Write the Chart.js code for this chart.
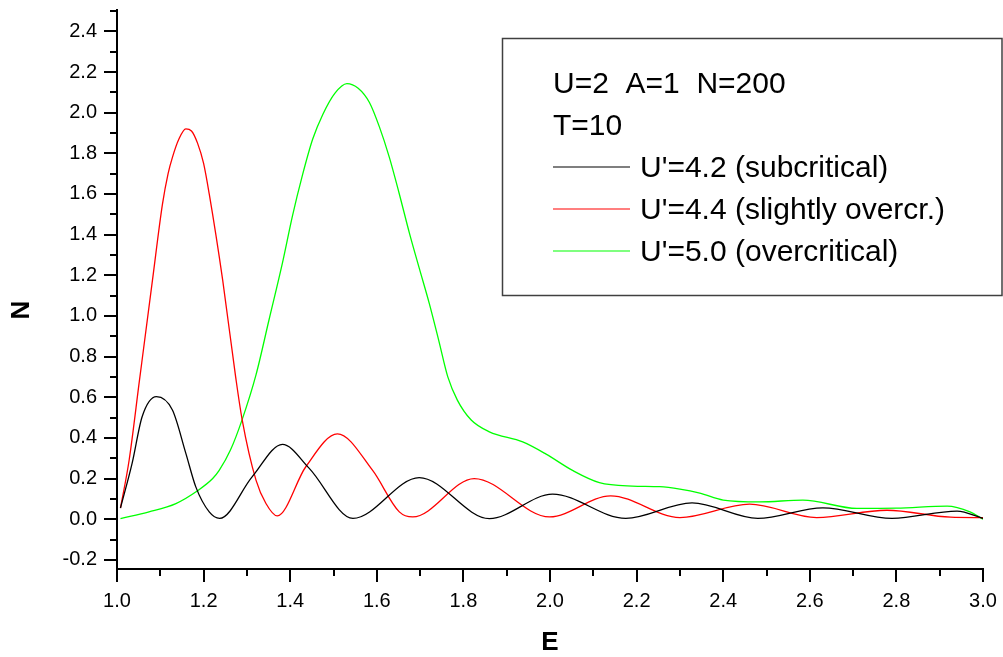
<!DOCTYPE html>
<html>
<head>
<meta charset="utf-8">
<script src="https://cdn.jsdelivr.net/npm/chart.js@4.4.1/dist/chart.umd.min.js"></script>
<style>
  html, body { margin: 0; padding: 0; background: #fff; }
  canvas { display: block; }
</style>
</head>
<body>
<canvas id="spectrum" width="1003" height="657"></canvas>
<script>
// N(E) for three values of U'
const blackE = [1.008, 1.035, 1.058, 1.091, 1.128, 1.159, 1.182, 1.213, 1.237, 1.312, 1.382, 1.444, 1.545, 1.698, 1.860, 2.006, 2.175, 2.328, 2.480, 2.630, 2.790, 2.940, 3.000];
const blackN = [0.055, 0.276, 0.504, 0.603, 0.537, 0.324, 0.159, 0.036, 0.004, 0.208, 0.368, 0.250, 0.004, 0.205, 0.003, 0.123, 0.004, 0.080, 0.004, 0.056, 0.004, 0.040, 0.004];

const redE = [1.008, 1.028, 1.052, 1.082, 1.105, 1.118, 1.128, 1.143, 1.159, 1.172, 1.186, 1.200, 1.213, 1.244, 1.274, 1.289, 1.321, 1.344, 1.370, 1.436, 1.509, 1.590, 1.652, 1.683, 1.825, 1.999, 2.140, 2.300, 2.461, 2.616, 2.778, 2.925, 3.000];
const redN = [0.055, 0.290, 0.685, 1.177, 1.550, 1.700, 1.780, 1.870, 1.920, 1.910, 1.850, 1.750, 1.600, 1.177, 0.700, 0.490, 0.192, 0.077, 0.016, 0.258, 0.420, 0.241, 0.036, 0.011, 0.200, 0.011, 0.115, 0.008, 0.074, 0.008, 0.044, 0.010, 0.008];

const greenE = [1.008, 1.074, 1.136, 1.186, 1.221, 1.236, 1.262, 1.289, 1.321, 1.351, 1.382, 1.405, 1.428, 1.452, 1.475, 1.503, 1.531, 1.557, 1.583, 1.606, 1.629, 1.652, 1.675, 1.698, 1.721, 1.743, 1.764, 1.786, 1.818, 1.860, 1.937, 1.991, 2.052, 2.114, 2.190, 2.253, 2.300, 2.346, 2.400, 2.484, 2.584, 2.709, 2.800, 2.917, 2.970, 3.000];
const greenN = [0.003, 0.036, 0.077, 0.140, 0.200, 0.240, 0.340, 0.490, 0.710, 0.980, 1.260, 1.490, 1.690, 1.870, 1.990, 2.095, 2.143, 2.120, 2.050, 1.930, 1.780, 1.600, 1.410, 1.235, 1.063, 0.880, 0.700, 0.586, 0.488, 0.430, 0.380, 0.320, 0.240, 0.180, 0.163, 0.160, 0.148, 0.128, 0.094, 0.085, 0.094, 0.053, 0.054, 0.064, 0.036, 0.000];

const seriesLabels = ["U'=4.2 (subcritical)", "U'=4.4 (slightly overcr.)", "U'=5.0 (overcritical)"];
const headerLines = ['U=2  A=1  N=200', 'T=10'];

const xMajorTicks = [1.0, 1.2, 1.4, 1.6, 1.8, 2.0, 2.2, 2.4, 2.6, 2.8, 3.0];
const xMinorTicks = [1.1, 1.3, 1.5, 1.7, 1.9, 2.1, 2.3, 2.5, 2.7, 2.9];
const yMajorTicks = [-0.2, 0.0, 0.2, 0.4, 0.6, 0.8, 1.0, 1.2, 1.4, 1.6, 1.8, 2.0, 2.2, 2.4];
const yMinorTicks = [-0.1, 0.1, 0.3, 0.5, 0.7, 0.9, 1.1, 1.3, 1.5, 1.7, 1.9, 2.1, 2.3, 2.5];

const FONT = "'Liberation Sans', Arial, Helvetica, sans-serif";

const toPoints = (xs, ys) => xs.map((x, i) => ({ x: x, y: ys[i] }));

// outward major/minor tick marks on both axes, plus axis titles
const tickMarks = {
  id: 'tickMarks',
  afterDraw(chart) {
    const ctx = chart.ctx;
    const xs = chart.scales.x;
    const ys = chart.scales.y;
    const area = chart.chartArea;
    ctx.save();
    ctx.strokeStyle = '#000';
    ctx.lineWidth = 2;
    ctx.beginPath();
    yMajorTicks.forEach((v) => {
      const py = Math.round(ys.getPixelForValue(v));
      ctx.moveTo(area.left - 13, py);
      ctx.lineTo(area.left, py);
    });
    yMinorTicks.forEach((v) => {
      const py = Math.round(ys.getPixelForValue(v));
      ctx.moveTo(area.left - 7, py);
      ctx.lineTo(area.left, py);
    });
    xMajorTicks.forEach((v) => {
      const px = Math.round(xs.getPixelForValue(v));
      ctx.moveTo(px, area.bottom);
      ctx.lineTo(px, area.bottom + 13);
    });
    xMinorTicks.forEach((v) => {
      const px = Math.round(xs.getPixelForValue(v));
      ctx.moveTo(px, area.bottom);
      ctx.lineTo(px, area.bottom + 7);
    });
    ctx.stroke();

    ctx.fillStyle = '#000';
    ctx.font = 'bold 26px ' + FONT;
    ctx.textAlign = 'center';
    ctx.textBaseline = 'middle';
    ctx.fillText('E', (area.left + area.right) / 2, 643);
    ctx.translate(22, 310);
    ctx.rotate(-Math.PI / 2);
    ctx.fillText('N', 0, 0);
    ctx.restore();
  }
};

// boxed legend with the parameter lines on top
const legendBox = {
  id: 'legendBox',
  afterDraw(chart) {
    const ctx = chart.ctx;
    ctx.save();
    ctx.fillStyle = '#fff';
    ctx.fillRect(502, 38, 500, 257);
    ctx.strokeStyle = '#404040';
    ctx.lineWidth = 1.5;
    ctx.strokeRect(502.5, 38.5, 499.5, 257);

    ctx.font = '30px ' + FONT;
    ctx.fillStyle = '#000';
    ctx.textAlign = 'left';
    ctx.textBaseline = 'alphabetic';
    let baseline = 93;
    headerLines.forEach((t) => {
      ctx.fillText(t, 553, baseline);
      baseline += 42;
    });
    chart.data.datasets.forEach((ds) => {
      ctx.strokeStyle = ds.borderColor;
      ctx.lineWidth = 1.2;
      ctx.beginPath();
      ctx.moveTo(553, baseline - 10);
      ctx.lineTo(630, baseline - 10);
      ctx.stroke();
      ctx.fillText(ds.label, 640, baseline);
      baseline += 42;
    });
    ctx.restore();
  }
};

const lineStyle = {
  borderWidth: 1.3,
  pointRadius: 0,
  fill: false,
  cubicInterpolationMode: 'monotone'
};

new Chart(document.getElementById('spectrum').getContext('2d'), {
  type: 'line',
  data: {
    datasets: [
      Object.assign({}, lineStyle, { label: seriesLabels[0], borderColor: '#000000', data: toPoints(blackE, blackN) }),
      Object.assign({}, lineStyle, { label: seriesLabels[1], borderColor: '#ff0000', data: toPoints(redE, redN) }),
      Object.assign({}, lineStyle, { label: seriesLabels[2], borderColor: '#00ff00', data: toPoints(greenE, greenN) })
    ]
  },
  options: {
    responsive: false,
    animation: false,
    layout: { padding: { top: 10, right: 20, left: 0, bottom: 0 } },
    plugins: {
      legend: { display: false },
      tooltip: { enabled: false }
    },
    scales: {
      x: {
        type: 'linear',
        min: 1.0,
        max: 3.0,
        grid: { display: false, drawTicks: false },
        border: { display: true, color: '#000', width: 2 },
        afterBuildTicks: (scale) => { scale.ticks = xMajorTicks.map((v) => ({ value: v })); },
        afterFit: (scale) => {
          scale.height = 88;
          scale.paddingLeft = 0;
          scale.paddingRight = 0;
        },
        ticks: {
          color: '#000',
          padding: 20,
          maxRotation: 0,
          autoSkip: false,
          font: { family: FONT, size: 20 },
          callback: (v) => Number(v).toFixed(1)
        }
      },
      y: {
        type: 'linear',
        min: -0.245,
        max: 2.505,
        grid: { display: false, drawTicks: false },
        border: { display: true, color: '#000', width: 2 },
        afterBuildTicks: (scale) => { scale.ticks = yMajorTicks.map((v) => ({ value: v })); },
        afterFit: (scale) => {
          scale.width = 117;
          scale.paddingTop = 0;
          scale.paddingBottom = 0;
        },
        ticks: {
          color: '#000',
          padding: 20,
          autoSkip: false,
          font: { family: FONT, size: 20 },
          callback: (v) => Number(v).toFixed(1)
        }
      }
    }
  },
  plugins: [tickMarks, legendBox]
});
</script>
</body>
</html>
